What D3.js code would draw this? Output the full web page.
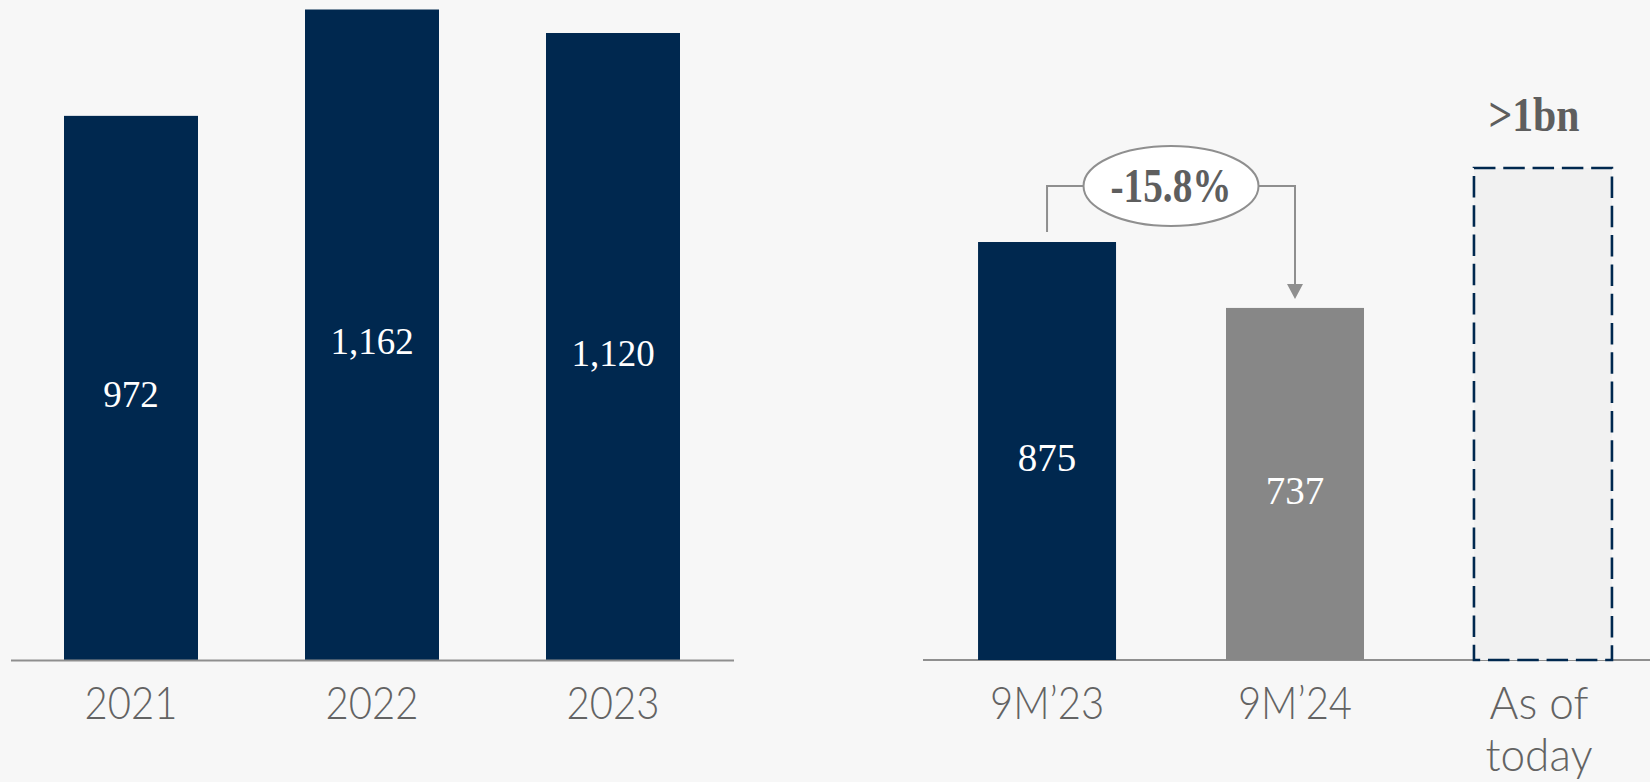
<!DOCTYPE html>
<html>
<head>
<meta charset="utf-8">
<script src="https://cdn.jsdelivr.net/npm/d3@7/dist/d3.min.js"></script>
<style>
  html, body { margin: 0; padding: 0; background: #f7f7f7; }
  svg { display: block; }
</style>
</head>
<body>
<svg id="chart" width="1650" height="782"></svg>
<script>
// Annual figures
const years = ["2021", "2022", "2023"];
const yearValues = [972, 1162, 1120];

// Nine-month figures plus the current outlook
const periods = ["9M’23", "9M’24", "As of today"];
const periodValues = [875, 737];
const outlookValue = 1030;
const outlookLabel = ">1bn";

const NAVY = "#00284f";
const GREY_BAR = "#878787";
const AXIS = "#8f8f8f";
const TEXT = "#5e5e5e";

const svg = d3.select("#chart");
const baseY = 660;

const fmt = d3.format(",");
const pct = d3.formatLocale({ decimal: ".", thousands: ",", grouping: [3], currency: ["", ""], minus: "-" }).format(".1%");

// ---------- left panel ----------
const xL = d3.scaleBand().domain(years).range([10.5, 733.5])
  .paddingInner(0.444).paddingOuter(0.222);
const yL = d3.scaleLinear().domain([0, 1162]).range([baseY, 9.5]);

const left = svg.append("g");
left.selectAll("rect.bar").data(years).join("rect")
  .attr("class", "bar")
  .attr("x", d => xL(d))
  .attr("width", xL.bandwidth())
  .attr("y", (d, i) => yL(yearValues[i]))
  .attr("height", (d, i) => baseY - yL(yearValues[i]))
  .attr("fill", NAVY);

left.selectAll("text.val").data(years).join("text")
  .attr("class", "val")
  .attr("x", d => xL(d) + xL.bandwidth() / 2)
  .attr("y", (d, i) => (yL(yearValues[i]) + baseY) / 2 + 19)
  .attr("text-anchor", "middle")
  .attr("font-family", "'Liberation Serif', 'DejaVu Serif', serif")
  .attr("font-size", 37)
  .attr("fill", "#ffffff")
  .text((d, i) => fmt(yearValues[i]));

// category axis (line only, labels drawn below)
const axL = left.append("g").attr("transform", `translate(0,${baseY})`)
  .call(d3.axisBottom(xL).tickSize(0).tickFormat(""));
axL.select(".domain").attr("stroke", AXIS).attr("stroke-width", 2);

left.selectAll("text.cat").data(years).join("text")
  .attr("class", "cat")
  .attr("transform", d => `translate(${xL(d) + xL.bandwidth() / 2},719) scale(0.87,1)`)
  .attr("text-anchor", "middle")
  .attr("font-family", "Lato, 'Open Sans', sans-serif")
  .attr("font-weight", 300)
  .attr("font-size", 46)
  .attr("fill", "#636363")
  .text(d => d);

// ---------- right panel ----------
const xR = d3.scaleBand().domain(periods).range([923, 1667])
  .paddingInner(0.4435).paddingOuter(0.222);
const yR = d3.scaleLinear().domain([0, 1000]).range([baseY, baseY - 477.7]);

const right = svg.append("g");

right.append("line")
  .attr("x1", 923).attr("x2", 1650)
  .attr("y1", baseY).attr("y2", baseY)
  .attr("stroke", AXIS).attr("stroke-width", 2);

const barColors = [NAVY, GREY_BAR];
right.selectAll("rect.bar").data(periodValues).join("rect")
  .attr("class", "bar")
  .attr("x", (d, i) => xR(periods[i]))
  .attr("width", xR.bandwidth())
  .attr("y", d => yR(d))
  .attr("height", d => baseY - yR(d))
  .attr("fill", (d, i) => barColors[i]);

right.selectAll("text.val").data(periodValues).join("text")
  .attr("class", "val")
  .attr("x", (d, i) => xR(periods[i]) + xR.bandwidth() / 2)
  .attr("y", d => (yR(d) + baseY) / 2 + 20)
  .attr("text-anchor", "middle")
  .attr("font-family", "'Liberation Serif', 'DejaVu Serif', serif")
  .attr("font-size", 39)
  .attr("fill", "#ffffff")
  .text(d => fmt(d));

// outlook: dashed outline box
const ox = xR(periods[2]);
right.append("rect")
  .attr("x", ox)
  .attr("width", xR.bandwidth())
  .attr("y", yR(outlookValue))
  .attr("height", baseY - yR(outlookValue))
  .attr("fill", "#f1f1f1")
  .attr("stroke", NAVY)
  .attr("stroke-width", 2.6)
  .attr("stroke-dasharray", "21.5,7.8");

right.append("text")
  .attr("x", ox + xR.bandwidth() / 2 - 9)
  .attr("y", 131)
  .attr("text-anchor", "middle")
  .attr("font-family", "'Liberation Serif', 'DejaVu Serif', serif")
  .attr("font-weight", "bold")
  .attr("font-size", 48)
  .attr("textLength", 91)
  .attr("lengthAdjust", "spacingAndGlyphs")
  .attr("fill", TEXT)
  .text(outlookLabel);

// change annotation between the two nine-month bars
const cxA = xR(periods[0]) + xR.bandwidth() / 2;
const cxB = xR(periods[1]) + xR.bandwidth() / 2;
const midX = (cxA + cxB) / 2;
const annY = 186;
const rx = 87.5, ry = 40;

right.append("path")
  .attr("d", `M${cxA},${yR(periodValues[0]) - 10}V${annY}H${midX - rx}`)
  .attr("fill", "none").attr("stroke", AXIS).attr("stroke-width", 2);
right.append("path")
  .attr("d", `M${midX + rx},${annY}H${cxB}V${yR(periodValues[1]) - 22}`)
  .attr("fill", "none").attr("stroke", AXIS).attr("stroke-width", 2);
const tipY = yR(periodValues[1]) - 9;
right.append("path")
  .attr("d", `M${cxB - 8},${tipY - 15}L${cxB + 8},${tipY - 15}L${cxB},${tipY}Z`)
  .attr("fill", AXIS);

right.append("ellipse")
  .attr("cx", midX).attr("cy", annY)
  .attr("rx", rx).attr("ry", ry)
  .attr("fill", "#ffffff")
  .attr("stroke", AXIS).attr("stroke-width", 2);

const change = periodValues[1] / periodValues[0] - 1;
right.append("text")
  .attr("x", midX)
  .attr("y", annY + 16)
  .attr("text-anchor", "middle")
  .attr("font-family", "'Liberation Serif', 'DejaVu Serif', serif")
  .attr("font-weight", "bold")
  .attr("font-size", 48)
  .attr("textLength", 121)
  .attr("lengthAdjust", "spacingAndGlyphs")
  .attr("fill", TEXT)
  .text(pct(change));

// category labels (last one wraps onto two lines)
right.selectAll("text.cat").data(periods).join("text")
  .attr("class", "cat")
  .attr("transform", (d, i) => `translate(${xR(d) + xR.bandwidth() / 2 - (i === 2 ? 4 : 0)},719) scale(${i === 2 ? 0.96 : 0.87},1)`)
  .attr("text-anchor", "middle")
  .attr("font-family", "Lato, 'Open Sans', sans-serif")
  .attr("font-weight", 300)
  .attr("font-size", 46)
  .attr("fill", "#636363")
  .each(function (d) {
    const words = d === "As of today" ? ["As of", "today"] : [d];
    d3.select(this).selectAll("tspan").data(words).join("tspan")
      .attr("x", 0)
      .attr("dy", (w, i) => i === 0 ? 0 : 52)
      .text(w => w);
  });
</script>
</body>
</html>
